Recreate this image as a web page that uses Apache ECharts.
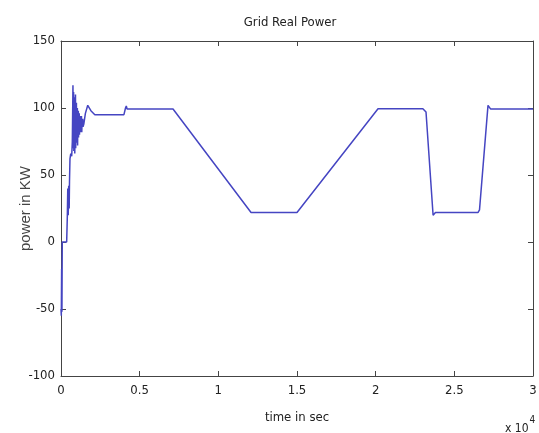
<!DOCTYPE html>
<html>
<head>
<meta charset="utf-8">
<script src="https://cdn.jsdelivr.net/npm/echarts@6/dist/echarts.min.js"></script>
<style>html,body{margin:0;padding:0;background:#fff}#c{width:539px;height:433px}</style>
</head>
<body>
<div id="c"></div>
<script>
// time in seconds
var timeSec = [0, 20, 40, 60, 80, 360, 400, 430, 460, 490, 520, 540, 570, 620, 680, 720,
  760, 780, 800, 815, 830, 845, 860, 875, 890, 905, 920, 935, 950, 965, 980, 995, 1010, 1025, 1040, 1055,
  1070, 1085, 1100, 1115, 1130, 1145, 1160, 1175, 1190, 1205, 1220, 1240, 1260, 1280, 1300, 1320, 1340, 1360, 1380, 1400,
  1450, 1550, 1700, 1900, 2150, 4000, 4100, 4150, 4200, 7120, 12080, 15000, 20150, 23000, 23200, 23650, 23800,
  26500, 26600, 27140, 27300, 30000];
// grid real power in kW
var powerKW = [-50, -55, -20, -52, 0, 0, 18, 40, 20, 42, 25, 45, 62, 66, 64, 75,
  117, 70, 112, 68, 108, 72, 105, 66, 100, 74, 110, 70, 98, 76, 104, 74, 96, 78, 100, 72,
  95, 80, 98, 78, 93, 82, 96, 80, 92, 84, 94, 82, 92, 84, 94, 82, 90, 86, 92, 86,
  88, 96, 102, 98, 95, 95, 100, 101.5, 99.3, 99.3, 22, 22, 99.5, 99.5, 97, 20, 22,
  22, 24, 102, 99.3, 99.3];
var xTicks = [0, 0.5, 1, 1.5, 2, 2.5, 3];
var yTicks = [-100, -50, 0, 50, 100, 150];

var data = timeSec.map(function (t, i) { return [t, powerKW[i]]; });
var narrow = '"DejaVu Sans Condensed", "Liberation Sans Narrow", "Liberation Sans", Arial, sans-serif';
var axisColor = '#444';
var tickCommon = { inside: true, length: 5, lineStyle: { color: axisColor } };

var chart = echarts.init(document.getElementById('c'), null, { renderer: 'canvas' });
chart.setOption({
  animation: false,
  backgroundColor: '#fff',
  title: {
    text: 'Grid Real Power', left: 285, top: 11, textAlign: 'center',
    textStyle: { fontFamily: narrow, fontWeight: 'normal', fontSize: 13, color: '#222' }
  },
  grid: { left: 61, right: 6, top: 41, bottom: 57, containLabel: false, outerBoundsMode: 'none' },
  xAxis: [{
    type: 'value', min: 0, max: 30000, interval: 5000, position: 'bottom',
    name: 'time in sec', nameLocation: 'middle', nameGap: 35, nameMoveOverlap: false,
    nameTextStyle: { fontFamily: narrow, fontSize: 13, color: '#222' },
    axisLine: { show: true, onZero: false, lineStyle: { color: axisColor } },
    axisTick: tickCommon,
    axisLabel: { margin: 8, fontFamily: narrow, fontSize: 13, color: '#222',
      formatter: function (v) { var s = v / 10000; return xTicks.indexOf(s) >= 0 ? String(s) : ''; } },
    splitLine: { show: false }
  }, {
    type: 'value', min: 0, max: 30000, interval: 5000, position: 'top',
    axisLine: { show: true, onZero: false, lineStyle: { color: axisColor } },
    axisTick: tickCommon, axisLabel: { show: false }, splitLine: { show: false }
  }],
  yAxis: [{
    type: 'value', min: -100, max: 150, interval: 50, position: 'left',
    name: 'power in KW', nameLocation: 'middle', nameGap: 28, nameMoveOverlap: false,
    nameTextStyle: { fontFamily: '"Liberation Sans", Arial, sans-serif', fontSize: 15, color: '#444' },
    axisLine: { show: true, onZero: false, lineStyle: { color: axisColor } },
    axisTick: tickCommon,
    axisLabel: { margin: 6, fontFamily: narrow, fontSize: 13, color: '#222',
      formatter: function (v) { return yTicks.indexOf(v) >= 0 ? String(v) : ''; } },
    splitLine: { show: false }
  }, {
    type: 'value', min: -100, max: 150, interval: 50, position: 'right',
    axisLine: { show: true, onZero: false, lineStyle: { color: axisColor } },
    axisTick: tickCommon, axisLabel: { show: false }, splitLine: { show: false }
  }],
  graphic: [{
    type: 'text', left: 505, top: 415,
    style: {
      text: '{b|x 10}{s|4}',
      rich: {
        b: { fontFamily: narrow, fontSize: 12, fill: '#222', verticalAlign: 'bottom' },
        s: { fontFamily: narrow, fontSize: 10, fill: '#222', padding: [0, 0, 10, 1] }
      }
    }
  }],
  series: [{
    type: 'line', xAxisIndex: 0, yAxisIndex: 0, data: data,
    showSymbol: false, symbol: 'none',
    lineStyle: { color: '#4545c2', width: 1.5 }
  }]
});
</script>
</body>
</html>
